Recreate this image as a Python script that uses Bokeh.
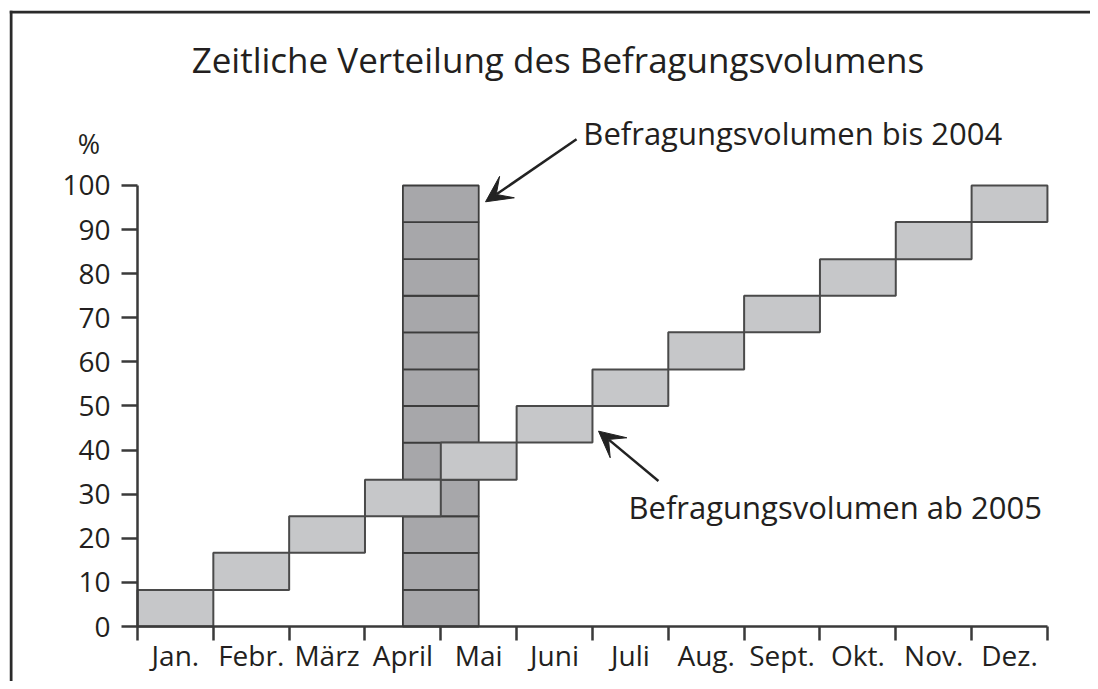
from bokeh.plotting import figure
from bokeh.models import Range1d, FixedTicker, Arrow, VeeHead, Label, Span, ColumnDataSource
from bokeh.embed import file_html
from bokeh.resources import INLINE

# ---- data ----
months = ["Jan.", "Febr.", "März", "April", "Mai", "Juni", "Juli", "Aug.",
          "Sept.", "Okt.", "Nov.", "Dez."]
# cumulative survey volume (%) reached at end of each month, from 2005 on
cum_2005 = [8.3, 16.7, 25.0, 33.3, 41.7, 50.0, 58.3, 66.7, 75.0, 83.3, 91.7, 100.0]
# until 2004: whole volume in April/Mai, cumulative parts (%)
cum_2004 = [8.3, 16.7, 25.0, 33.3, 41.7, 50.0, 58.3, 66.7, 75.0, 83.3, 91.7, 100.0]
pos_2004 = 4.0  # boundary between April and Mai (month index)
y_ticks = [0, 10, 20, 30, 40, 50, 60, 70, 80, 90, 100]
title_text = "Zeitliche Verteilung des Befragungsvolumens"
label_2004 = "Befragungsvolumen bis 2004"
label_2005 = "Befragungsvolumen ab 2005"
unit_label = "%"

FONT = "Open Sans"
TXT = "#231f20"
LINE = "#3a3a3a"
FRAME = "#2a2a2a"

src05 = ColumnDataSource(dict(
    left=[i for i in range(len(months))],
    right=[i + 1 for i in range(len(months))],
    bottom=[0.0] + cum_2005[:-1],
    top=cum_2005,
))
src04 = ColumnDataSource(dict(
    left=[pos_2004 - 0.5] * len(cum_2004),
    right=[pos_2004 + 0.5] * len(cum_2004),
    bottom=[0.0] + cum_2004[:-1],
    top=cum_2004,
))

X0, X1 = -1.688, 12.568
Y0, Y1 = -12.47, 139.68
p = figure(width=1090, height=681, x_range=Range1d(X0, X1), y_range=Range1d(Y0, Y1),
           output_backend="svg", toolbar_location=None, title=None,
           min_border_left=9, min_border_right=0, min_border_top=10, min_border_bottom=0)
p.grid.visible = False
p.outline_line_color = None
p.background_fill_color = "white"
p.border_fill_color = "white"

# outer frame (left and top edges)
p.add_layout(Span(location=X0 + 0.02, dimension="height", line_color=FRAME, line_width=3))
p.add_layout(Span(location=Y1 - 0.34, dimension="width", line_color=FRAME, line_width=3))

# bars
p.quad(left="left", right="right", bottom="bottom", top="top", source=src04,
       fill_color="#a7a7aa", line_color="#3c3c3c", line_width=1.8)
p.quad(left="left", right="right", bottom="bottom", top="top", source=src05,
       fill_color="#c6c7c9", line_color="#4a4a4a", line_width=2)

# x axis (at y = 0)
xa = p.xaxis[0]
xa.fixed_location = 0
xa.ticker = FixedTicker(ticks=[i + 0.5 for i in range(len(months))],
                        minor_ticks=list(range(len(months) + 1)))
xa.major_label_overrides = {i + 0.5: m for i, m in enumerate(months)}
xa.major_tick_line_color = None
xa.major_tick_out = 0
xa.major_tick_in = 0
xa.minor_tick_out = 14
xa.minor_tick_in = 0
xa.minor_tick_line_color = LINE
xa.minor_tick_line_width = 2.5
xa.axis_line_color = LINE
xa.axis_line_width = 2.5
xa.bounds = (0, 12)
xa.major_label_standoff = -5
xa.major_label_text_font = FONT
xa.major_label_text_font_size = "28px"
xa.major_label_text_color = TXT

# y axis (at x = 0)
ya = p.yaxis[0]
ya.fixed_location = 0
ya.ticker = FixedTicker(ticks=y_ticks, minor_ticks=[])
ya.major_tick_out = 16
ya.major_tick_in = 0
ya.major_tick_line_color = LINE
ya.major_tick_line_width = 2.5
ya.minor_tick_line_color = None
ya.axis_line_color = LINE
ya.axis_line_width = 2.5
ya.bounds = (0, 100)
ya.major_label_standoff = 11
ya.major_label_text_font = FONT
ya.major_label_text_font_size = "28px"
ya.major_label_text_color = TXT

# texts
p.add_layout(Label(x=5.545, y=128.6, text=title_text, text_align="center",
                   text_baseline="alphabetic", text_font=FONT, text_font_size="35px",
                   text_color=TXT))
p.add_layout(Label(x=-0.64, y=109.5, text=unit_label, text_align="center",
                   text_baseline="middle", text_font=FONT, text_font_size="27px",
                   text_color=TXT))
p.add_layout(Label(x=5.88, y=112.0, text=label_2004, text_baseline="alphabetic",
                   text_font=FONT, text_font_size="31px", text_color=TXT))
p.add_layout(Label(x=6.475, y=27.0, text=label_2005, text_baseline="alphabetic",
                   text_font=FONT, text_font_size="31px", text_color=TXT))

# arrows
p.add_layout(Arrow(x_start=5.79, y_start=110.5, x_end=4.59, y_end=96.3,
                   line_color="#222", line_width=2.5,
                   end=VeeHead(size=26, fill_color="#222", line_color="#222")))
p.add_layout(Arrow(x_start=6.87, y_start=33.0, x_end=6.08, y_end=44.3,
                   line_color="#222", line_width=2.5,
                   end=VeeHead(size=26, fill_color="#222", line_color="#222")))

open("out.html", "w").write(file_html(p, INLINE))
